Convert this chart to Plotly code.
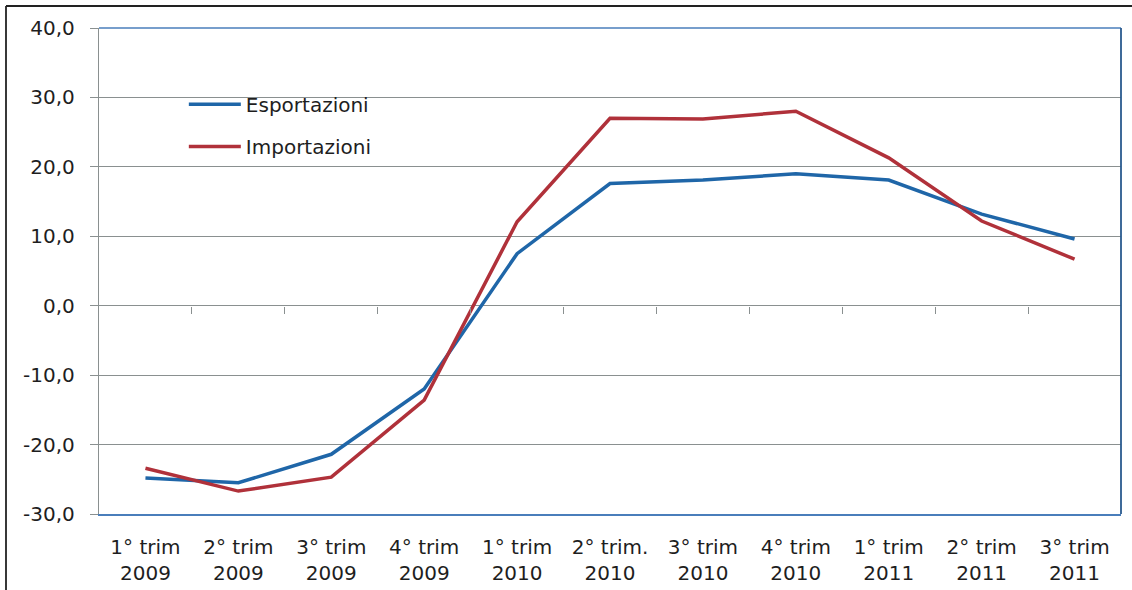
import plotly.graph_objects as go

# Quarterly labels (category axis)
trimestri = [
    "1° trim<br>2009", "2° trim<br>2009", "3° trim<br>2009", "4° trim<br>2009",
    "1° trim<br>2010", "2° trim.<br>2010", "3° trim<br>2010", "4° trim<br>2010",
    "1° trim<br>2011", "2° trim<br>2011", "3° trim<br>2011",
]

# Year-over-year percentage changes
esportazioni = [-24.8, -25.5, -21.4, -12.0, 7.5, 17.6, 18.1, 19.0, 18.1, 13.2, 9.6]
importazioni = [-23.4, -26.7, -24.7, -13.6, 12.1, 27.0, 26.9, 28.0, 21.3, 12.2, 6.7]

y_ticks = [40, 30, 20, 10, 0, -10, -20, -30]
y_tick_text = ["40,0", "30,0", "20,0", "10,0", "0,0", "-10,0", "-20,0", "-30,0"]

BLUE = "#1F66A8"
RED = "#B0313A"
GRID = "#8A9090"
FRAME_BLUE = "#4A7EBB"
FONT = "'DejaVu Sans', sans-serif"
TEXT = "#1E1E1E"
FS = 20

pos = list(range(len(trimestri)))

fig = go.Figure()
fig.add_trace(go.Scatter(
    x=pos, y=esportazioni, mode="lines", name="Esportazioni",
    line=dict(color=BLUE, width=3.5), legend="legend",
))
fig.add_trace(go.Scatter(
    x=pos, y=importazioni, mode="lines", name="Importazioni",
    line=dict(color=RED, width=3.5), legend="legend2",
))
# Invisible helper trace so the tick-mark axis at zero is rendered
fig.add_trace(go.Scatter(
    x=pos, y=[0] * len(pos), mode="lines", xaxis="x2", yaxis="y",
    line=dict(width=0), hoverinfo="skip", showlegend=False,
))

legend_style = dict(
    xanchor="left", yanchor="middle", itemwidth=52,
    bgcolor="rgba(0,0,0,0)", font=dict(size=FS, color=TEXT),
)

fig.update_layout(
    width=1132, height=590,
    margin=dict(l=99, r=11, t=28, b=76),
    paper_bgcolor="white", plot_bgcolor="white",
    font=dict(family=FONT, size=FS, color=TEXT),
    xaxis=dict(
        range=[-0.5, len(trimestri) - 0.5],
        tickvals=pos, ticktext=trimestri,
        showgrid=False, zeroline=False, automargin=False,
        showline=True, linecolor=FRAME_BLUE, linewidth=1.5,
        ticks="", ticklabelstandoff=14,
        tickfont=dict(size=FS, color=TEXT),
    ),
    xaxis2=dict(
        overlaying="x", anchor="free", position=30 / 70,
        range=[-0.5, len(trimestri) - 0.5],
        tickvals=[p + 0.5 for p in pos[:-1]],
        ticks="outside", ticklen=7, tickwidth=1.2, tickcolor=GRID,
        showticklabels=False, showgrid=False, zeroline=False, showline=False,
    ),
    yaxis=dict(
        range=[-30, 40], tickvals=y_ticks, ticktext=y_tick_text,
        showgrid=True, gridcolor=GRID, gridwidth=1.3,
        zeroline=False, automargin=False,
        showline=True, linecolor=GRID, linewidth=1.3,
        ticks="outside", ticklen=8, tickcolor=GRID, tickwidth=1.2,
        ticklabelstandoff=11,
        tickfont=dict(size=FS, color=TEXT),
    ),
    legend=dict(x=0.083, y=0.843, **legend_style),
    legend2=dict(x=0.083, y=0.756, **legend_style),
    shapes=[
        # plot-area frame: top and right edges
        dict(type="line", xref="paper", yref="paper", x0=0, x1=1, y0=1, y1=1,
             line=dict(color=FRAME_BLUE, width=1.5)),
        dict(type="line", xref="paper", yref="paper", x0=1, x1=1, y0=0, y1=1,
             line=dict(color="#2A5A8E", width=1.8)),
        # outer chart border (left and top)
        dict(type="line", xref="paper", yref="paper",
             x0=-93 / 1022, x1=-93 / 1022, y0=-76 / 486, y1=1 + 22 / 486,
             line=dict(color="#222222", width=1.8)),
        dict(type="line", xref="paper", yref="paper",
             x0=-93 / 1022, x1=1 + 11 / 1022, y0=1 + 22 / 486, y1=1 + 22 / 486,
             line=dict(color="#222222", width=1.8)),
    ],
)

fig.write_html("out.html")
